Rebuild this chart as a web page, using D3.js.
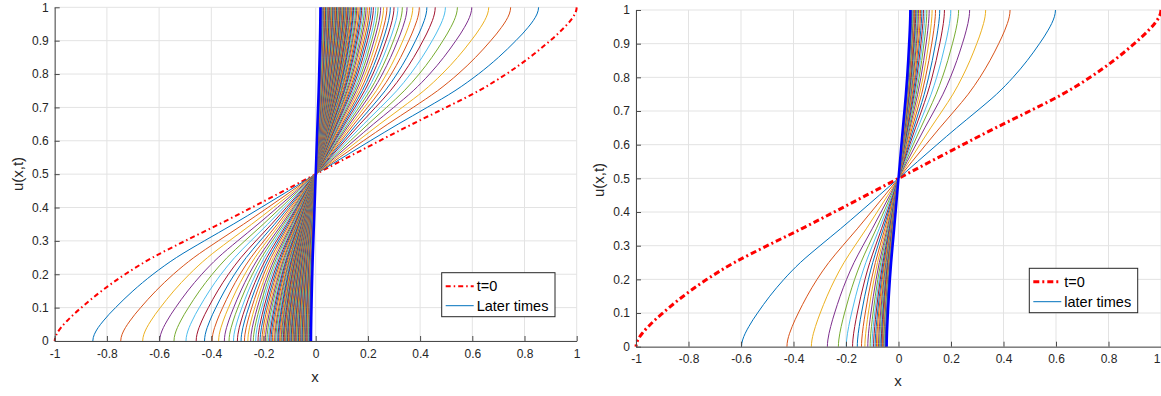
<!DOCTYPE html>
<html>
<head>
<meta charset="utf-8">
<script src="https://cdn.jsdelivr.net/npm/d3@7"></script>
<style>
  body { margin: 0; background: #fff; }
  svg { display: block; font-family: "Liberation Sans", Arial, sans-serif; }
  .grid line { stroke: #e3e3e3; stroke-width: 1; }
  .axis path, .axis line { stroke: #4a4a4a; }
  .axis text { fill: #262626; font-size: 12px; }
</style>
</head>
<body>
<div id="chart"></div>
<script>
const t0U = [0, 0.01, 0.02, 0.04, 0.06, 0.08, 0.1, 0.15, 0.2, 0.25, 0.3, 0.35, 0.4, 0.45, 0.5,
             0.55, 0.6, 0.65, 0.7, 0.75, 0.8, 0.85, 0.9, 0.92, 0.94, 0.96, 0.98, 0.99, 1]
const t0X = [-1, -0.998, -0.993, -0.976, -0.953, -0.927, -0.898, -0.82, -0.73, -0.625, -0.5, -0.37, -0.245, -0.122, 0,
             0.122, 0.245, 0.37, 0.5, 0.625, 0.73, 0.82, 0.898, 0.927, 0.953, 0.976, 0.993, 0.998, 1]

// later times: width of each profile (|x| where the curve meets u=0), left figure
const leftWidths = [0.854, 0.747, 0.663, 0.598, 0.543, 0.497, 0.458, 0.426, 0.397, 0.372,
  0.35, 0.332, 0.315, 0.3, 0.286, 0.273, 0.26, 0.249, 0.239, 0.23, 0.221, 0.213, 0.206,
  0.199, 0.193, 0.187, 0.181, 0.176, 0.171, 0.166, 0.161, 0.157, 0.153, 0.149, 0.145,
  0.142, 0.138, 0.135, 0.132, 0.129, 0.126, 0.124, 0.121, 0.119, 0.116, 0.114, 0.112,
  0.11, 0.108, 0.106, 0.104, 0.102, 0.1, 0.098, 0.096, 0.094, 0.092, 0.09, 0.088, 0.086,
  0.084, 0.082, 0.08, 0.078, 0.076, 0.074, 0.072, 0.07, 0.068, 0.066, 0.064, 0.062, 0.06,
  0.058, 0.056, 0.054, 0.052, 0.05, 0.048, 0.046, 0.044, 0.042, 0.04, 0.038, 0.036,
  0.034, 0.032, 0.03, 0.028, 0.026, 0.024, 0.022, 0.02]
const leftFinal = 0.018

// right figure
const rightWidths = [0.598, 0.425, 0.332, 0.271, 0.229, 0.199, 0.175, 0.157, 0.141, 0.128,
  0.117, 0.108, 0.101, 0.095, 0.089, 0.084, 0.08, 0.076, 0.072, 0.069, 0.066, 0.063,
  0.061, 0.058, 0.056, 0.054, 0.052, 0.05, 0.049, 0.047]
const rightFinal = 0.045

const xTicks = [-1, -0.8, -0.6, -0.4, -0.2, 0, 0.2, 0.4, 0.6, 0.8, 1]
const yTicks = [0, 0.1, 0.2, 0.3, 0.4, 0.5, 0.6, 0.7, 0.8, 0.9, 1]
const colorOrder = ["#0072BD", "#D95319", "#EDB120", "#7E2F8E", "#77AC30", "#4DBEEE", "#A2142F"]

const svg = d3.select("#chart").append("svg")
  .attr("width", 1161)
  .attr("height", 396)

function panel(cfg) {
  let x = d3.scaleLinear().domain([-1, 1]).range([cfg.left, cfg.right])
  let y = d3.scaleLinear().domain([0, 1]).range([cfg.bottom, cfg.top])
  let g = svg.append("g")

  // GRID
  let grid = g.append("g").attr("class", "grid")
  grid.selectAll(".gx").data(xTicks).enter().append("line")
    .attr("x1", d => x(d)).attr("x2", d => x(d))
    .attr("y1", cfg.top).attr("y2", cfg.bottom)
  grid.selectAll(".gy").data(yTicks).enter().append("line")
    .attr("x1", cfg.left).attr("x2", cfg.right)
    .attr("y1", d => y(d)).attr("y2", d => y(d))

  // x is a function of u, so go top to bottom and keep it monotone in y
  let line = d3.line()
    .x(d => x(d[0]))
    .y(d => y(d[1]))
    .curve(d3.curveMonotoneY)

  function profile(w) {
    return t0U.map((u, i) => [w * t0X[i], u]).reverse()
  }

  // t=0
  g.append("path")
    .attr("d", line(profile(1)))
    .attr("fill", "none")
    .attr("stroke", "#ff0000")
    .attr("stroke-width", cfg.redWidth)
    .attr("stroke-dasharray", cfg.redDash)

  // later times
  g.selectAll(".later").data(cfg.widths).enter().append("path")
    .attr("class", "later")
    .attr("d", d => line(profile(d)))
    .attr("fill", "none")
    .attr("stroke", (d, i) => colorOrder[i % colorOrder.length])
    .attr("stroke-width", 1)

  g.append("path")
    .attr("d", line(profile(cfg.final)))
    .attr("fill", "none")
    .attr("stroke", "#0000ff")
    .attr("stroke-width", 2.5)

  // AXES
  let xAxisG = g.append("g")
    .attr("class", "axis")
    .attr("transform", "translate(0," + cfg.bottom + ")")
    .call(d3.axisBottom(x).tickValues(xTicks).tickFormat(d => String(d))
      .tickSizeInner(-5).tickSizeOuter(0).tickPadding(8))
  g.append("g")
    .attr("class", "axis")
    .attr("transform", "translate(" + cfg.left + ",0)")
    .call(d3.axisLeft(y).tickValues(yTicks).tickFormat(d => String(d))
      .tickSizeInner(-5).tickSizeOuter(0).tickPadding(6))
  g.selectAll(".axis").attr("font-family", null).attr("font-size", null)
  if (cfg.lastTickEnd) {
    // the last x label sits right on the page edge
    xAxisG.selectAll(".tick text").filter(d => d === 1)
      .attr("text-anchor", "end").attr("dx", "-1px")
  }

  g.append("text")
    .attr("transform", "translate(" + cfg.yLabel[0] + "," + cfg.yLabel[1] + ") rotate(-90)")
    .attr("text-anchor", "middle")
    .attr("dy", "0.35em")
    .attr("fill", "#262626")
    .style("font-size", "15px")
    .text("u(x,t)")
  g.append("text")
    .attr("x", cfg.xLabel[0]).attr("y", cfg.xLabel[1])
    .attr("text-anchor", "middle")
    .attr("dy", "0.35em")
    .attr("fill", "#262626")
    .style("font-size", "15px")
    .text("x")

  // LEGEND
  let lg = cfg.legend
  let leg = g.append("g").attr("transform", "translate(" + lg.x + "," + lg.y + ")")
  leg.append("rect")
    .attr("width", lg.w).attr("height", lg.h)
    .attr("fill", "#fff").attr("stroke", "#262626").attr("stroke-width", 1)
  leg.append("line")
    .attr("x1", 4).attr("x2", 32).attr("y1", lg.row1).attr("y2", lg.row1)
    .attr("stroke", "#ff0000").attr("stroke-width", cfg.redWidth)
    .attr("stroke-dasharray", cfg.redDash)
  leg.append("line")
    .attr("x1", 4).attr("x2", 32).attr("y1", lg.row2).attr("y2", lg.row2)
    .attr("stroke", colorOrder[0]).attr("stroke-width", 1)
  leg.append("text")
    .attr("x", 35).attr("y", lg.row1).attr("dy", "0.35em")
    .attr("fill", "#000").style("font-size", "14.5px")
    .text("t=0")
  leg.append("text")
    .attr("x", 35).attr("y", lg.row2).attr("dy", "0.35em")
    .attr("fill", "#000").style("font-size", "14.5px")
    .text(cfg.laterLabel)
}

panel({
  left: 54.7, right: 576.7, top: 7.3, bottom: 341,
  widths: leftWidths, final: leftFinal,
  redWidth: 2, redDash: "5,3,1.5,3",
  yLabel: [18, 174], xLabel: [315, 377],
  legend: {x: 441.7, y: 272.7, w: 113.3, h: 44, row1: 13.5, row2: 33},
  laterLabel: "Later times"
})

panel({
  left: 636, right: 1161, top: 10, bottom: 346.7,
  widths: rightWidths, final: rightFinal,
  redWidth: 3, redDash: "6,3,2,3",
  yLabel: [599, 180], xLabel: [898, 381],
  legend: {x: 1029.3, y: 268.3, w: 108.4, h: 44.4, row1: 13.4, row2: 33.4},
  laterLabel: "later times",
  lastTickEnd: true
})
</script>
</body>
</html>
